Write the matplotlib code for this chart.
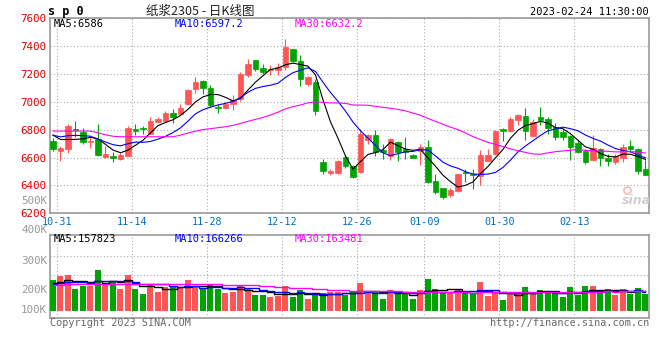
import numpy as np
import pandas as pd
import matplotlib
matplotlib.use('Agg')
import matplotlib.pyplot as plt

W, H = 660, 360

# trading days shown (10-28 .. 02-24), holidays removed
holidays = ['2023-01-02', '2023-01-23', '2023-01-24', '2023-01-25', '2023-01-26', '2023-01-27']
dates = [d for d in pd.bdate_range('2022-10-28', '2023-02-24') if d.strftime('%Y-%m-%d') not in holidays]
tick_labels = ['10-31', '11-14', '11-28', '12-12', '12-26', '01-09', '01-30', '02-13']

open_ = [6717, 6648, 6658, 6806, 6784, 6708, 6732, 6605, 6610, 6591,
         6612, 6806, 6815, 6767, 6856, 6863, 6918, 6915, 6987, 7092,
         7147, 7101, 6965, 6958, 6987, 7016, 7190, 7297, 7240, 7228,
         7228, 7249, 7376, 7292, 7125, 7140, 6565, 6486, 6490, 6601,
         6536, 6497, 6722, 6763, 6657, 6613, 6710, 6661, 6620, 6645,
         6673, 6432, 6378, 6328, 6359, 6499, 6482, 6468, 6577, 6626,
         6804, 6792, 6869, 6898, 6755, 6888, 6874, 6821, 6784, 6755,
         6705, 6649, 6584, 6661, 6596, 6570, 6596, 6681, 6661, 6516]
high = [6739, 6684, 6839, 6863, 6815, 6748, 6837, 6682, 6641, 6634,
        6825, 6839, 6827, 6891, 6887, 6932, 6946, 6987, 7094, 7178,
        7154, 7118, 6987, 6999, 7047, 7213, 7309, 7302, 7273, 7261,
        7280, 7452, 7380, 7335, 7182, 7160, 6590, 6515, 6585, 6618,
        6545, 6806, 6770, 6794, 6700, 6741, 6715, 6746, 6623, 6698,
        6722, 6480, 6378, 6378, 6485, 6516, 6516, 6657, 6661, 6795,
        6809, 6893, 6912, 6954, 6874, 6961, 6893, 6845, 6801, 6762,
        6722, 6661, 6758, 6666, 6625, 6625, 6698, 6727, 6666, 6584]
low = [6646, 6574, 6634, 6748, 6694, 6665, 6610, 6593, 6565, 6582,
       6610, 6760, 6765, 6765, 6851, 6856, 6848, 6911, 6975, 7063,
       7054, 6963, 6920, 6949, 6944, 7006, 7178, 7221, 7197, 7194,
       7194, 7230, 7285, 7116, 7111, 6903, 6480, 6478, 6480, 6528,
       6456, 6492, 6698, 6613, 6590, 6584, 6577, 6589, 6596, 6545,
       6415, 6335, 6303, 6318, 6354, 6424, 6376, 6400, 6577, 6621,
       6719, 6784, 6833, 6724, 6755, 6833, 6772, 6724, 6724, 6581,
       6631, 6553, 6577, 6541, 6541, 6553, 6565, 6637, 6480, 6478]
close = [6660, 6670, 6825, 6800, 6713, 6715, 6617, 6624, 6598, 6617,
         6808, 6792, 6803, 6863, 6877, 6918, 6891, 6958, 7082, 7142,
         7101, 6975, 6956, 6982, 7011, 7197, 7273, 7237, 7213, 7235,
         7249, 7392, 7292, 7163, 7177, 6934, 6500, 6505, 6575, 6540,
         6463, 6770, 6763, 6642, 6642, 6734, 6642, 6642, 6598, 6673,
         6424, 6352, 6318, 6366, 6480, 6487, 6473, 6618, 6620, 6790,
         6787, 6876, 6905, 6789, 6857, 6869, 6809, 6748, 6748, 6678,
         6636, 6570, 6666, 6593, 6577, 6613, 6673, 6661, 6505, 6478]
volume = [256000, 289000, 297000, 182000, 207000, 209000, 339000, 229000, 248000, 182000,
          297000, 182000, 140000, 223000, 157000, 196000, 209000, 188000, 256000, 196000,
          182000, 223000, 182000, 149000, 157000, 212000, 182000, 132000, 132000, 116000,
          126000, 207000, 116000, 173000, 99000, 135000, 149000, 157000, 157000, 132000,
          154000, 231000, 146000, 165000, 99000, 173000, 146000, 146000, 99000, 173000,
          264310, 181760, 146230, 145870, 173420, 146590, 139850, 240160, 126340, 145980,
          90870, 146120, 145760, 198230, 146450, 173180, 164920, 154370, 115890, 195470,
          130860, 204120, 203760, 150915, 183890, 131240, 178350, 142970, 193880, 142675]

# sessions before 10-28 (only feed the moving averages)
close_before = [6675, 6818, 6806, 6710, 6719, 6977, 7074, 6898, 6737, 6812,
                6788, 6806, 6858, 6881, 6914, 6894, 6598, 6632, 6752, 6741,
                6790, 6745, 6775, 6730, 6760, 6825, 6825, 6795, 6695]
volume_before = [198000, 225000, 187000, 240000, 206000, 215000, 232000, 190000, 201000, 228000,
                 214000, 196000, 243000, 205000, 188000, 219000, 210000, 224000, 197000, 172000,
                 226000, 205000, 231000, 212000, 216000, 241000, 219000, 236000, 218000]

RED = '#ff5555'
GREEN = '#00a400'
MONO = 'DejaVu Sans Mono'


def moving_average(before, values, n):
    s = pd.Series(list(before) + list(values), dtype=float)
    return s.rolling(n).mean().to_numpy()[len(before):]


def fmt_price(v):
    return f'{v:.1f}'.rstrip('0').rstrip('.')


def fig_xy(x, y):
    return x / W, 1 - y / H


o, h, l, c = map(np.array, (open_, high, low, close))
vol = np.array(volume)
idx = np.arange(len(close))
up = c >= o
colors = np.where(up, RED, GREEN)

ma = {n: moving_average(close_before, close, n) for n in (5, 10, 30)}
vma = {n: moving_average(volume_before, volume, n) for n in (5, 10, 30)}
ma_colors = {5: 'black', 10: '#0000ff', 30: '#ff00ff'}

labels = [d.strftime('%m-%d') for d in dates]
tick_idx = [labels.index(t) for t in tick_labels]

fig = plt.figure(figsize=(W / 100, H / 100), dpi=100)
ax = fig.add_axes([50 / W, 1 - 213.3 / H, 599 / W, (213.3 - 18) / H])
axv = fig.add_axes([50 / W, 1 - 317.7 / H, 599 / W, (317.7 - 234.7) / H])

for a in (ax, axv):
    a.set_xlim(-0.4, 79.47)
    for s in a.spines.values():
        s.set_color('#999999')
        s.set_linewidth(1.2)
    a.set_xticks([i - 0.5 for i in tick_idx])
    a.grid(True, axis='x', color='#aaaaaa', linestyle=(0, (1, 2)), linewidth=0.8)
    a.tick_params(length=0)

# candles
ax.vlines(idx, l, h, colors=colors, linewidth=0.8, zorder=3)
body = np.maximum(np.abs(c - o), 3)
ax.bar(idx, body, bottom=np.minimum(o, c), width=0.76, color=colors,
       edgecolor=colors, linewidth=0.5, zorder=4)
for n in (5, 10, 30):
    ax.plot(idx, ma[n], color=ma_colors[n], linewidth=0.8, zorder=5)

ax.set_ylim(6200, 7600)
ax.set_yticks(np.arange(6200, 7601, 200))
ax.set_yticklabels([str(v) for v in range(6200, 7601, 200)], color='#e00000',
                   fontsize=7.8, family=MONO)
ax.grid(True, axis='y', color='#aaaaaa', linestyle=(0, (1, 2)), linewidth=0.8)
ax.set_xticklabels(tick_labels, color='#0070c0', fontsize=7.3, family=MONO)
ax.tick_params(axis='y', pad=3)
ax.tick_params(axis='x', pad=3)
ax.set_axisbelow(True)

# volume
axv.bar(idx, vol, width=0.8, color=colors, zorder=3)
for n in (5, 10, 30):
    axv.plot(idx, vma[n], color=ma_colors[n], linewidth=1.0, drawstyle='steps-mid', zorder=4)
axv.set_ylim(-55000, 630000)
axv.set_yticks([])
axv.set_xticklabels([])
for f in (0.514, 0.747):
    axv.plot([0, 1], [f, f], transform=axv.transAxes, color='#aaaaaa',
             linestyle=(0, (1, 2)), linewidth=0.8, zorder=1)

# MA captions
ma_x = {5: 54, 10: 175, 30: 295}
for n in (5, 10, 30):
    fig.text(*fig_xy(ma_x[n], 24), f'MA{n}:{fmt_price(ma[n][-1])}', color=ma_colors[n],
             fontsize=7.5, family=MONO, va='center', ha='left')
    fig.text(*fig_xy(ma_x[n], 238.5), f'MA{n}:{vma[n][-1]:.0f}', color=ma_colors[n],
             fontsize=7.5, family=MONO, va='center', ha='left')

# volume axis labels (as placed in the original)
for txt, y in [('500K', 200.5), ('400K', 230), ('300K', 261), ('200K', 290), ('100K', 310)]:
    fig.text(*fig_xy(47, y), txt, color='#999999', fontsize=7.8, family=MONO,
             ha='right', va='center')

# header
fig.text(*fig_xy(48, 11), 's p 0', fontsize=8.5, family=MONO, fontweight='bold',
         ha='left', va='center')
fig.text(*fig_xy(200, 11), '纸浆2305 - 日K线图', fontsize=9,
         family=['Noto Sans CJK SC', 'DejaVu Sans'], color='#222222', ha='center', va='center')
fig.text(*fig_xy(649, 12), dates[-1].strftime('%Y-%m-%d') + ' 11:30:00', fontsize=7.5,
         family=MONO, ha='right', va='center')

# footer
fig.text(*fig_xy(50, 323.5), 'Copyright 2023 SINA.COM', fontsize=7.3, family=MONO,
         color='#666666', ha='left', va='center')
fig.text(*fig_xy(649, 323.5), 'http://finance.sina.com.cn', fontsize=7.3, family=MONO,
         color='#666666', ha='right', va='center')

# sina watermark
fig.text(*fig_xy(636, 200), 'sina', fontsize=9, fontweight='bold', style='italic',
         color='#cfcfcf', ha='center', va='center')
ax.plot([0.963], [0.12], marker='o', transform=ax.transAxes, mfc='none',
        mec='#f2c4c4', ms=5, mew=1.5, clip_on=False)

fig.savefig('out.png', dpi=100)
